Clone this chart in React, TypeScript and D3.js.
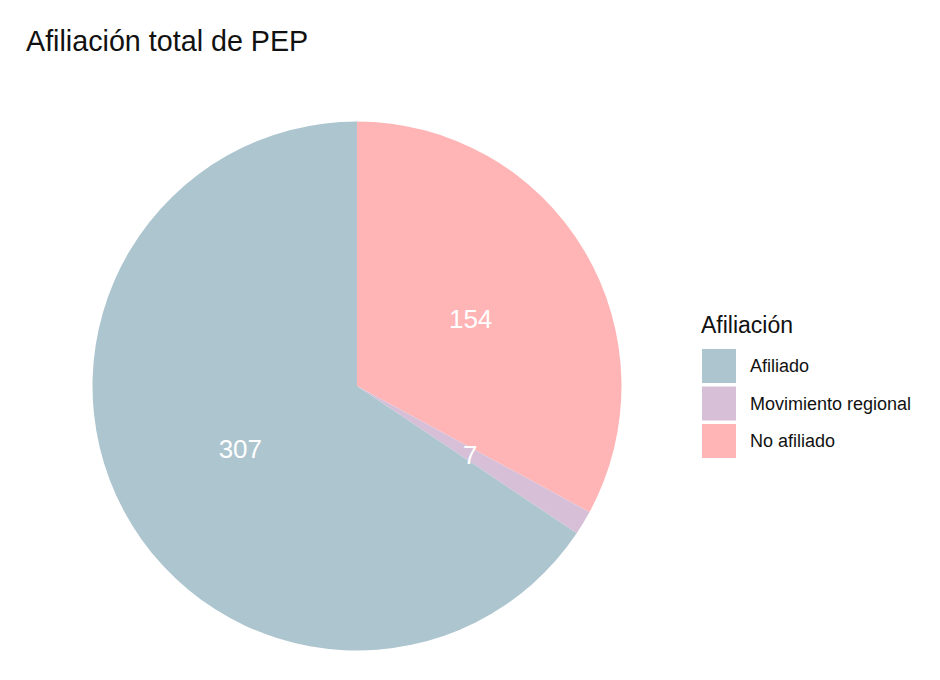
import React from "react";
import * as d3 from "d3";

const categories = ["Afiliado", "Movimiento regional", "No afiliado"];
const values = [307, 7, 154];
const colors = ["#adc5cf", "#d7bfd8", "#ffb5b6"];
const title = "Afiliación total de PEP";
const legendTitle = "Afiliación";

const W = 940;
const H = 680;
const cx = 357;
const cy = 386;
const R = 264.5;

export default function App() {
  const data = categories.map((c, i) => ({ c, v: values[i], col: colors[i] }));
  // ggplot-style: drawn clockwise from 12 o'clock in reverse legend order
  const ordered = [...data].reverse();
  const pie = d3.pie<any>().sort(null).value((d: any) => d.v);
  const arcs = pie(ordered);
  const arc = d3.arc<any>().innerRadius(0).outerRadius(R);
  const labelArc = d3.arc<any>().innerRadius(R / 2).outerRadius(R / 2);
  const font = "'Liberation Sans', Arial, sans-serif";
  return (
    <svg width={W} height={H} style={{ position: "absolute", left: 0, top: 0, background: "#fff" }} fontFamily={font}>
      <rect width={W} height={H} fill="#fff" />
      <text x={26} y={51} fontSize={28.7} fill="#111">{title}</text>
      <g transform={`translate(${cx},${cy})`}>
        {arcs.map((a, i) => (
          <path key={i} d={arc(a) as string} fill={a.data.col} />
        ))}
        {arcs.map((a, i) => {
          const [x, y] = labelArc.centroid(a);
          return (
            <text key={"l" + i} x={x} y={y} dy="0.36em" textAnchor="middle" fontSize={26} fill="#fff">
              {a.data.v}
            </text>
          );
        })}
      </g>
      <g>
        <text x={701} y={333} fontSize={23} fill="#111">{legendTitle}</text>
        {data.map((d, i) => {
          const yc = 366 + i * 37.5;
          return (
            <g key={d.c}>
              <rect x={702} y={yc - 17} width={34} height={34} fill={d.col} />
              <text x={750} y={yc} dy="0.36em" fontSize={18} fill="#111">{d.c}</text>
            </g>
          );
        })}
      </g>
    </svg>
  );
}
